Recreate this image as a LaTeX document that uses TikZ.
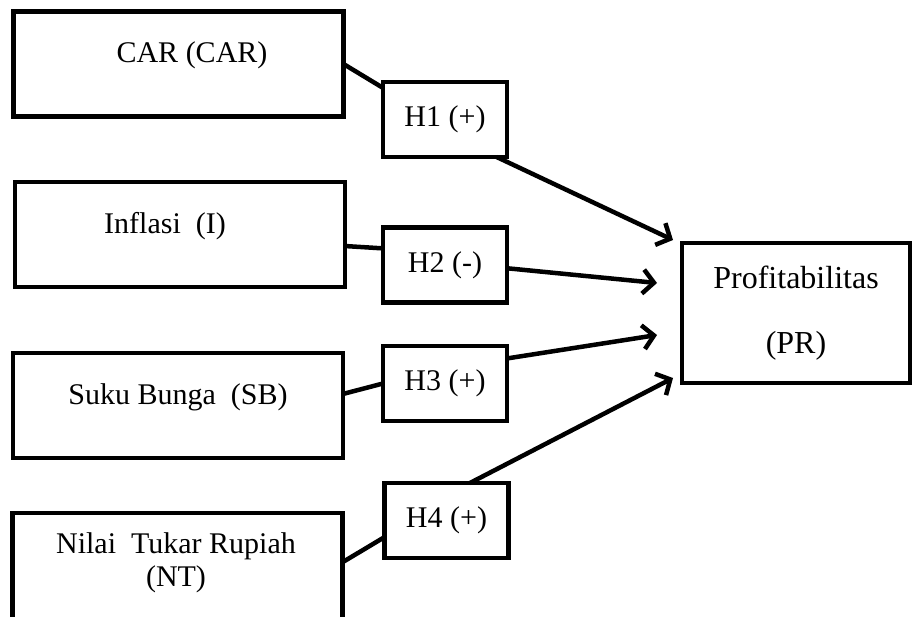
\documentclass[tikz,border=0pt]{standalone}
\usepackage{fontspec}
\setmainfont{Liberation Serif}
\usetikzlibrary{arrows.meta}

\begin{document}
\begin{tikzpicture}
[x=1pt,y=-1pt,
  boxDecorate/.style={shape=rectangle,draw,line width=4.5pt,inner sep=0pt,outer sep=0pt},%
  hypoDecorate/.style={boxDecorate,minimum width=124,minimum height=75},%
  lineDecorate/.style={-,line width=4.5pt},%
  arrowDecorate/.style={-{Straight Barb[length=11pt,width=24pt]},line width=4.5pt}]
\fontsize{30}{33}\selectfont
\useasboundingbox (0,0) rectangle (912,617);
%% variable boxes
\foreach \nodename/\x/\y/\h in {
  car/178.5/64/105, inf/180/234.5/105, sb/178/405.5/105, nt/177.5/568/110}
{
  \node (\nodename) at (\x,\y) [boxDecorate,minimum width=330,minimum height=\h] {};
}
\node (carText) at (192,55) {CAR (CAR)};
\node (infText) at (165,226) {Inflasi\ \ (I)};
\node (sbText) at (178,397) {Suku Bunga\ \ (SB)};
\node (ntText) at (176,563) [align=center] {Nilai\ \ Tukar Rupiah\\(NT)};
%% hypothesis boxes
\foreach \nodename/\x/\y/\txt in {
  h1/445/119.5/{H1 (+)}, h2/445/265/{H2 (-)}, h3/445/383.5/{H3 (+)}, h4/446.5/520.5/{H4 (+)}}
{
  \node (\nodename) at (\x,\y) [hypoDecorate] {\txt};
}
%% dependent variable
\node (pr) at (796,313) [boxDecorate,minimum width=228,minimum height=140,
  align=center,font=\fontsize{32}{65}\selectfont] {Profitabilitas\\(PR)};
%% lines
\draw[lineDecorate] (car.east) -- (h1.153);
\draw[lineDecorate] (inf.356) -- (h2.165);
\draw[lineDecorate] (sb.4) -- (h3.west);
\draw[lineDecorate] (nt.2) -- (h4.195);
%% arrows
\draw[arrowDecorate] (h1.324) -- ([xshift=-9pt,yshift=3pt]pr.north west);
\draw[arrowDecorate] (h2.357) -- ([xshift=-25pt,yshift=30pt]pr.west);
\draw[arrowDecorate] (h3.22) -- ([xshift=-25pt,yshift=-22pt]pr.west);
\draw[arrowDecorate] (h4.58) -- ([xshift=-9pt,yshift=5pt]pr.south west);
\end{tikzpicture}
\end{document}
